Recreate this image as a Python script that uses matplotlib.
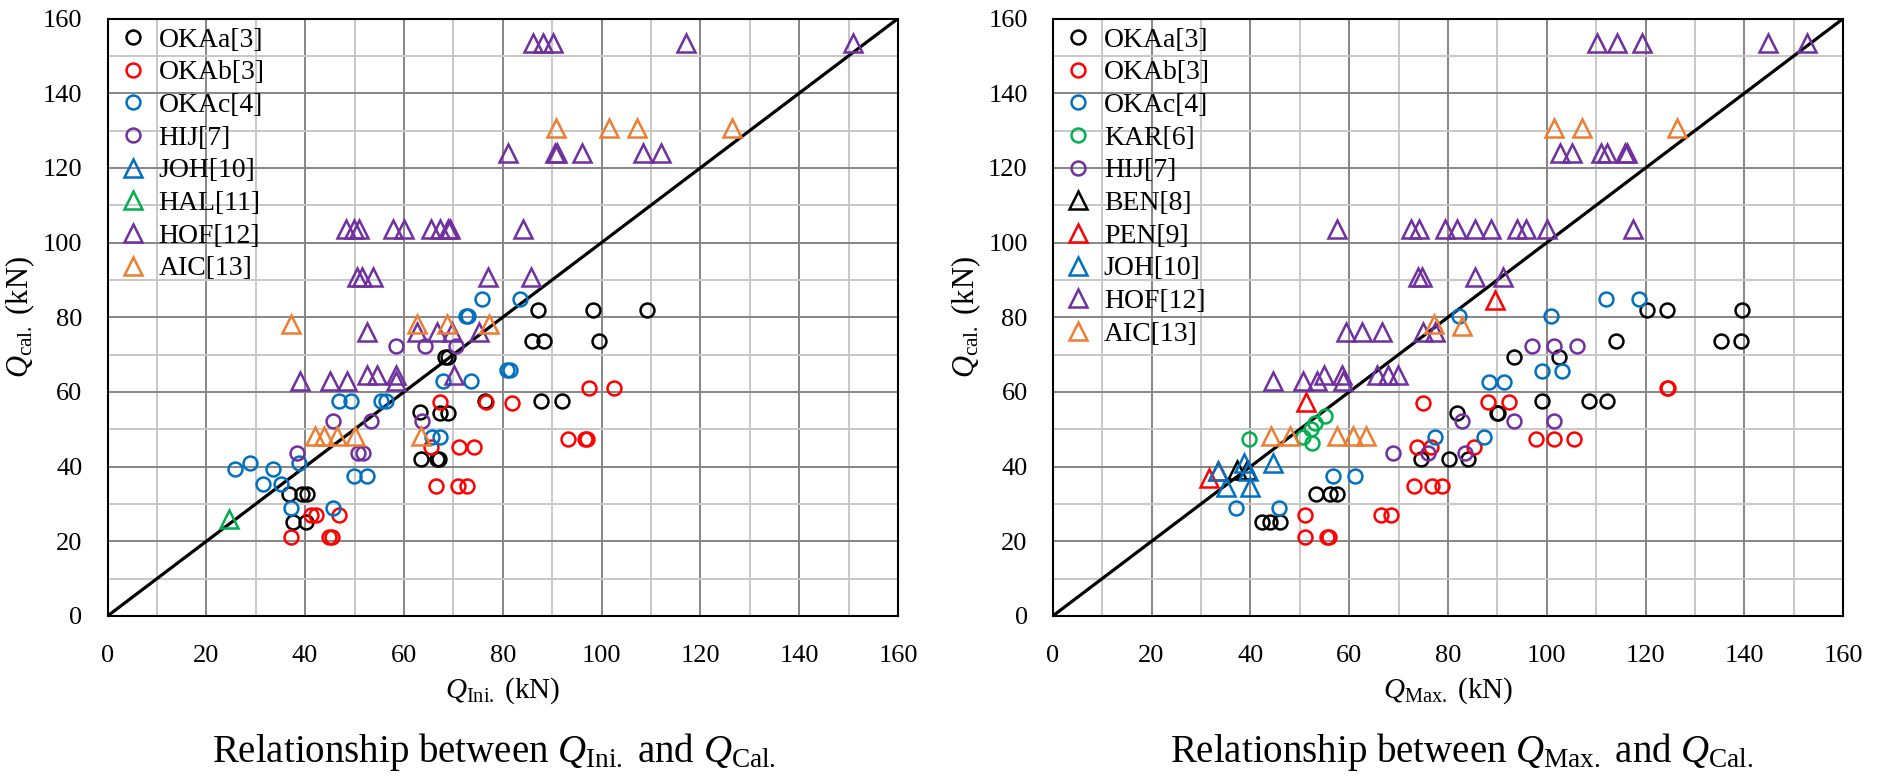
import matplotlib
matplotlib.use('Agg')
import matplotlib.pyplot as plt
from matplotlib.ticker import MultipleLocator

plt.rcParams['font.family'] = ['Liberation Serif', 'DejaVu Serif']
plt.rcParams['mathtext.fontset'] = 'custom'
plt.rcParams['mathtext.rm'] = 'Liberation Serif'
plt.rcParams['mathtext.it'] = 'Liberation Serif:italic'

# colours (Excel style)
BLACK = '#000000'
RED = '#FF0000'
BLUE = '#0070C0'
GREEN = '#00B050'
PURPLE = '#7030A0'
ORANGE = '#ED7D31'

# ---------------- left panel: Q_Ini. vs Q_cal. ----------------
okaa_ini_x = [36.8, 39.3, 40.3, 37.5, 40.2, 63.4, 66.6, 67.1, 63.3, 67.2, 68.9, 68.3, 69.0,
              76.4, 87.7, 91.9, 85.9, 88.4, 99.5, 87.1, 98.2, 109.1]
okaa_ini_y = [32.6, 32.6, 32.6, 25.3, 25.3, 42.0, 42.0, 42.0, 54.5, 54.3, 54.3, 69.3, 69.3,
              57.7, 57.7, 57.7, 73.6, 73.6, 73.6, 82.0, 82.0, 82.0]
okab_ini_x = [37.1, 44.9, 45.4, 41.1, 42.2, 46.8, 66.5, 71.0, 72.8, 65.5, 71.2, 74.2,
              93.2, 96.7, 97.1, 67.4, 76.6, 81.8, 97.5, 102.5]
okab_ini_y = [21.1, 21.1, 21.1, 27.0, 27.0, 27.0, 34.8, 34.8, 34.8, 45.3, 45.3, 45.3,
              47.3, 47.3, 47.3, 57.4, 57.4, 57.1, 61.0, 61.0]
okac_ini_x = [25.8, 28.8, 33.4, 31.4, 35.1, 38.8, 37.1, 45.7, 49.9, 52.5, 46.9, 49.2, 55.3,
              56.4, 65.6, 67.2, 68.0, 73.5, 80.8, 81.5, 72.5, 73.0, 75.9, 83.4]
okac_ini_y = [39.3, 41.1, 39.3, 35.3, 35.3, 40.9, 28.8, 28.8, 37.6, 37.6, 57.7, 57.7, 57.7,
              57.7, 48.0, 48.0, 62.8, 62.8, 65.9, 65.9, 80.4, 80.4, 84.8, 84.8]
hij_ini_x = [38.4, 45.7, 50.8, 51.8, 53.3, 58.4, 63.6, 64.3, 70.5]
hij_ini_y = [43.6, 52.1, 43.6, 43.6, 52.1, 72.3, 52.1, 72.3, 72.3]
joh_ini_x = []
joh_ini_y = []
hal_ini_x = [24.6]
hal_ini_y = [25.9]
hof_ini_x = [86.2, 88.1, 90.1, 117.1, 150.8,
             81.1, 90.6, 91.0, 96.1, 108.3, 112.0,
             48.2, 49.9, 51.0, 57.7, 60.0, 65.5, 67.4, 69.0, 69.3, 84.0,
             50.4, 51.5, 53.7, 77.1, 85.7,
             52.6, 62.6, 66.6, 69.7, 75.1,
             52.5, 54.5, 58.4, 70.1,
             39.0, 45.0, 48.4, 58.4]
hof_ini_y = [153.4, 153.4, 153.4, 153.4, 153.4,
             124.1, 124.1, 124.1, 124.1, 124.1, 124.1,
             103.6, 103.6, 103.6, 103.6, 103.6, 103.6, 103.6, 103.6, 103.6, 103.6,
             90.9, 90.9, 90.9, 90.9, 90.9,
             76.0, 76.0, 76.0, 76.0, 76.0,
             64.5, 64.5, 64.5, 64.5,
             62.9, 62.9, 62.9, 62.9]
aic_ini_x = [37.1, 62.6, 68.7, 77.2, 42.0, 43.8, 46.5, 50.1, 63.5, 90.8, 101.5, 107.2, 126.5]
aic_ini_y = [78.2, 78.2, 78.2, 78.2, 48.2, 48.2, 48.2, 48.2, 48.2, 130.6, 130.6, 130.6, 130.6]

# ---------------- right panel: Q_Max. vs Q_cal. ----------------
okaa_max_x = [42.3, 44.0, 46.1, 53.3, 56.1, 57.5, 74.5, 80.3, 84.0, 81.9, 89.9, 90.2,
              93.4, 102.5, 99.0, 108.5, 112.1, 114.1, 135.2, 139.3, 120.2, 124.4, 139.4]
okaa_max_y = [25.3, 25.3, 25.3, 32.6, 32.6, 32.6, 42.0, 42.0, 42.0, 54.4, 54.3, 54.3,
              69.3, 69.3, 57.7, 57.7, 57.7, 73.6, 73.6, 73.6, 82.0, 82.0, 82.0]
okab_max_x = [51.1, 55.6, 56.0, 51.1, 66.4, 68.4, 73.1, 76.7, 78.7, 73.7, 76.5, 85.3,
              97.8, 101.5, 105.5, 75.0, 88.0, 92.3, 124.4, 124.6]
okab_max_y = [21.1, 21.1, 21.1, 27.0, 27.0, 27.0, 34.8, 34.8, 34.8, 45.3, 45.3, 45.3,
              47.3, 47.3, 47.3, 57.1, 57.2, 57.2, 61.0, 61.0]
okac_max_x = [37.1, 45.7, 56.7, 61.2, 77.4, 87.2, 88.2, 91.3, 99.0, 103.0, 82.2, 100.8,
              111.9, 118.6]
okac_max_y = [28.8, 28.8, 37.6, 37.6, 48.0, 48.0, 62.6, 62.6, 65.7, 65.7, 80.4, 80.4,
              84.8, 84.8]
kar_max_x = [39.8, 50.7, 52.2, 53.1, 55.1, 52.4]
kar_max_y = [47.3, 48.0, 50.0, 51.8, 53.6, 46.2]
hij_max_x = [68.9, 76.0, 83.4, 82.9, 93.4, 101.5, 97.1, 101.5, 106.1]
hij_max_y = [43.6, 43.6, 43.6, 52.1, 52.1, 52.1, 72.3, 72.3, 72.3]
ben_max_x = [37.2, 39.3]
ben_max_y = [39.1, 39.1]
pen_max_x = [31.7, 33.5, 51.3, 89.5]
pen_max_y = [36.9, 38.9, 57.4, 84.6]
joh_max_x = [33.5, 38.7, 39.6, 35.1, 40.0, 44.6]
joh_max_y = [38.9, 40.9, 38.9, 34.6, 34.6, 40.9]
hof_max_x = [110.1, 114.3, 119.3, 144.8, 152.6,
             102.7, 105.0, 111.0, 112.1, 115.8, 116.2,
             57.5, 72.5, 74.1, 79.4, 81.9, 85.5, 88.8, 93.9, 95.8, 100.1, 117.4,
             74.0, 74.7, 85.5, 91.2,
             59.4, 62.5, 66.6, 75.0, 77.4,
             54.9, 58.5, 65.6, 67.9, 69.9,
             44.5, 50.7, 53.4, 58.7]
hof_max_y = [153.4, 153.4, 153.4, 153.4, 153.4,
             124.1, 124.1, 124.1, 124.1, 124.1, 124.1,
             103.6, 103.6, 103.6, 103.6, 103.6, 103.6, 103.6, 103.6, 103.6, 103.6, 103.6,
             90.9, 90.9, 90.9, 90.9,
             76.0, 76.0, 76.0, 76.0, 76.0,
             64.5, 64.5, 64.5, 64.5, 64.5,
             62.8, 62.8, 62.8, 62.8]
aic_max_x = [77.2, 82.8, 44.1, 48.0, 57.5, 60.8, 63.5, 101.5, 107.2, 126.4]
aic_max_y = [78.2, 77.7, 48.2, 48.2, 48.2, 48.2, 48.2, 130.6, 130.6, 130.6]

left_series = [
    ('OKAa[3]', okaa_ini_x, okaa_ini_y, 'o', BLACK),
    ('OKAb[3]', okab_ini_x, okab_ini_y, 'o', RED),
    ('OKAc[4]', okac_ini_x, okac_ini_y, 'o', BLUE),
    ('HIJ[7]', hij_ini_x, hij_ini_y, 'o', PURPLE),
    ('JOH[10]', joh_ini_x, joh_ini_y, '^', BLUE),
    ('HAL[11]', hal_ini_x, hal_ini_y, '^', GREEN),
    ('HOF[12]', hof_ini_x, hof_ini_y, '^', PURPLE),
    ('AIC[13]', aic_ini_x, aic_ini_y, '^', ORANGE),
]
right_series = [
    ('OKAa[3]', okaa_max_x, okaa_max_y, 'o', BLACK),
    ('OKAb[3]', okab_max_x, okab_max_y, 'o', RED),
    ('OKAc[4]', okac_max_x, okac_max_y, 'o', BLUE),
    ('KAR[6]', kar_max_x, kar_max_y, 'o', GREEN),
    ('HIJ[7]', hij_max_x, hij_max_y, 'o', PURPLE),
    ('BEN[8]', ben_max_x, ben_max_y, '^', BLACK),
    ('PEN[9]', pen_max_x, pen_max_y, '^', RED),
    ('JOH[10]', joh_max_x, joh_max_y, '^', BLUE),
    ('HOF[12]', hof_max_x, hof_max_y, '^', PURPLE),
    ('AIC[13]', aic_max_x, aic_max_y, '^', ORANGE),
]

W, H = 1877, 778
fig = plt.figure(figsize=(W / 100, H / 100), dpi=100)

ax1 = fig.add_axes([107.5 / W, 1 - 616 / H, 790.5 / W, 597.5 / H])
ax2 = fig.add_axes([1052.7 / W, 1 - 616 / H, 790.6 / W, 597.5 / H])


def setup(ax, series, xlabel):
    ax.set_xlim(0, 160)
    ax.set_ylim(0, 160)
    ax.xaxis.set_major_locator(MultipleLocator(20))
    ax.yaxis.set_major_locator(MultipleLocator(20))
    ax.xaxis.set_minor_locator(MultipleLocator(10))
    ax.yaxis.set_minor_locator(MultipleLocator(10))
    ax.grid(which='minor', color='#c8c8c8', linewidth=1.4, zorder=0)
    ax.grid(which='major', color='#868686', linewidth=1.4, zorder=0)
    ax.set_axisbelow(True)
    ax.tick_params(which='both', length=0, labelsize=19)
    ax.tick_params(axis='x', pad=21)
    ax.tick_params(axis='y', pad=18)
    for s in ax.spines.values():
        s.set_linewidth(1.5)
        s.set_color('black')

    ax.plot([0, 160], [0, 160], color='black', linewidth=2.3, zorder=2)

    for label, xs, ys, mk, col in series:
        ms = 10 if mk == 'o' else 13.5
        ax.plot(xs, ys, linestyle='none', marker=mk, markersize=ms,
                markerfacecolor='none', markeredgecolor=col, markeredgewidth=1.8,
                label=label, zorder=3, clip_on=False)

    ax.set_xlabel(xlabel, fontsize=21, labelpad=6)
    ax.set_ylabel(r'$Q_{\mathrm{cal.}}$ (kN)', fontsize=22, labelpad=4)
    ax.legend(loc='upper left', bbox_to_anchor=(0, 1.005), frameon=False,
              fontsize=20, borderaxespad=0, borderpad=0.42, handlelength=0.97,
              handletextpad=0.45, labelspacing=0.26, numpoints=1)


setup(ax1, left_series, r'$Q_{\mathrm{Ini.}}$ (kN)')
setup(ax2, right_series, r'$Q_{\mathrm{Max.}}$ (kN)')

fig.text(494 / W, 1 - 752 / H, r'Relationship between $Q_{\mathrm{Ini.}}$ and $Q_{\mathrm{Cal.}}$',
         ha='center', va='center', fontsize=28)
fig.text(1462 / W, 1 - 752 / H, r'Relationship between $Q_{\mathrm{Max.}}$ and $Q_{\mathrm{Cal.}}$',
         ha='center', va='center', fontsize=28)

fig.savefig('out.png', dpi=100)
